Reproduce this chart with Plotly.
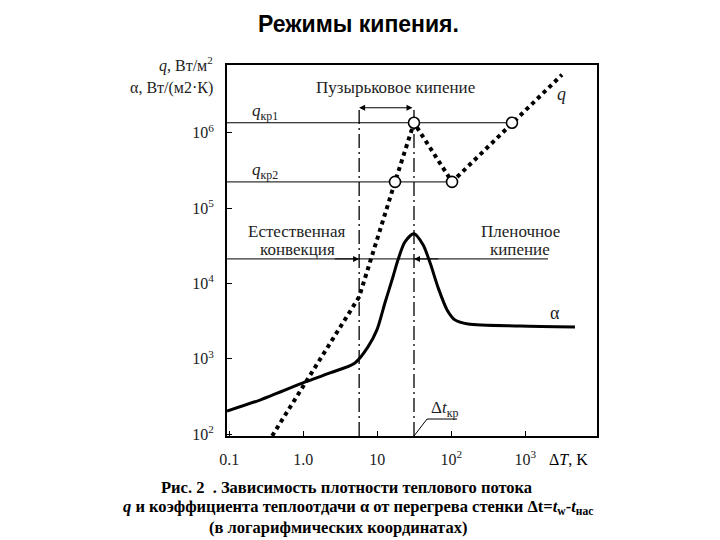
import numpy as np
import plotly.graph_objects as go

# ---------------- data ----------------
# heat transfer coefficient alpha vs wall superheat
dT_alpha = [0.0933, 0.26, 0.99, 2.3, 5.0, 7.5, 9.9, 12.7, 16.3, 19.1, 23.7, 31.4,
            41.6, 51.8, 66.0, 88.0, 112.0, 169.0, 850.0, 4700.0]
alpha = [203, 284, 479, 650, 881, 1440, 2420, 5520, 12200, 20600, 35600, 45600,
         32600, 18800, 9000, 4460, 3290, 2900, 2735, 2655]

# heat flux q vs wall superheat
dT_q = [0.38, 5.7, 17.4, 31.4, 102.6, 662.0, 3140.0]
q = [95, 6640, 2.23e5, 1.36e6, 2.23e5, 1.36e6, 5.9e6]

# characteristic levels / points
q_kr1 = 1.36e6
q_kr2 = 2.23e5
q_regime = 2.12e4          # level of the regime-boundary line
q_bracket = 2.15e6         # level of the nucleate boiling bracket
dT_conv = 5.7              # end of natural convection
dT_kr = 31.4               # critical superheat
dT_kr2 = 17.4
dT_min = 102.6
dT_film = 662.0
dT_regime_end = 2030.0
dT_leader = [31.4, 47.1, 120.0]
q_leader = [94.6, 159.0, 159.0]

x_range_log = [-1.03, 3.97]
y_range_log = [1.976, 6.90]
x_min = 10 ** x_range_log[0]
y_min = 10 ** y_range_log[0]

x_tickvals = [0.1, 1, 10, 100, 1000]
x_ticktext = ["0.1", "1.0", "10", "10<sup>2</sup>", "10<sup>3</sup>"]
y_tickvals = [1e2, 1e3, 1e4, 1e5, 1e6]
y_ticktext = ["10<sup>2</sup>", "10<sup>3</sup>", "10<sup>4</sup>", "10<sup>5</sup>", "10<sup>6</sup>"]

# ---------------- layout geometry ----------------
OFF = 8                      # page body margin of the html
W, H = 720 - OFF, 540 - OFF
L, T = 227 - OFF, 65 - OFF
PW, PH = 370, 371
R, B = W - L - PW, H - T - PH

def px(xp):
    return (xp - OFF - L) / PW

def py(yp):
    return (T + PH - (yp - OFF)) / PH

SERIF = "Liberation Serif"
TXT = "#222222"

fig = go.Figure()

thin = dict(color="black", width=1)
# horizontal reference lines
fig.add_trace(go.Scatter(x=[x_min, dT_film], y=[q_kr1, q_kr1], mode="lines", line=thin,
                         hoverinfo="skip"))
fig.add_trace(go.Scatter(x=[x_min, dT_min], y=[q_kr2, q_kr2], mode="lines", line=thin,
                         hoverinfo="skip"))
fig.add_trace(go.Scatter(x=[x_min, dT_regime_end], y=[q_regime, q_regime], mode="lines",
                         line=thin, hoverinfo="skip"))

# vertical dash-dot lines
dd = dict(color="black", width=1.3, dash="14px,4px,2px,4px")
for xv in (dT_conv, dT_kr):
    fig.add_trace(go.Scatter(x=[xv, xv], y=[y_min, q_bracket], mode="lines", line=dd,
                             hoverinfo="skip"))

# alpha curve
fig.add_trace(go.Scatter(x=dT_alpha, y=alpha, mode="lines",
                         line=dict(color="black", width=3, shape="spline", smoothing=0.8),
                         hoverinfo="skip"))
# q curve
fig.add_trace(go.Scatter(x=dT_q, y=q, mode="lines",
                         line=dict(color="black", width=4, dash="4px,4px"),
                         hoverinfo="skip"))
# leader for delta t_kr
fig.add_trace(go.Scatter(x=dT_leader, y=q_leader, mode="lines",
                         line=dict(color="black", width=1), hoverinfo="skip",
                         cliponaxis=False))
# open circles
fig.add_trace(go.Scatter(x=[dT_kr2, dT_kr, dT_min, dT_film, dT_kr],
                         y=[q_kr2, q_kr1, q_kr2, q_kr1, y_min],
                         mode="markers", cliponaxis=False,
                         marker=dict(size=11, color="white",
                                     line=dict(color="black", width=1.6)),
                         hoverinfo="skip"))

ann = []
lg = np.log10
# bracket double arrow
ann.append(dict(x=lg(dT_conv), y=lg(q_bracket), ax=lg(dT_kr), ay=lg(q_bracket),
                xref="x", yref="y", axref="x", ayref="y", text="", showarrow=True,
                arrowhead=2, startarrowhead=2, arrowside="end+start", arrowsize=1.2,
                arrowwidth=1, arrowcolor="black"))
# regime-boundary arrows
ann.append(dict(x=lg(dT_conv), y=lg(q_regime), ax=lg(dT_conv) - 0.35, ay=lg(q_regime),
                xref="x", yref="y", axref="x", ayref="y", text="", showarrow=True,
                arrowhead=2, arrowsize=1.2, arrowwidth=1, arrowcolor="black"))
ann.append(dict(x=lg(dT_kr), y=lg(q_regime), ax=lg(dT_kr) + 0.35, ay=lg(q_regime),
                xref="x", yref="y", axref="x", ayref="y", text="", showarrow=True,
                arrowhead=2, arrowsize=1.2, arrowwidth=1, arrowcolor="black"))

def label(text, xp, yp, size=17, xanchor="center", color=TXT, family=SERIF):
    ann.append(dict(text=text, x=px(xp), y=py(yp), xref="paper", yref="paper",
                    showarrow=False, xanchor=xanchor, yanchor="middle",
                    font=dict(family=family, size=size, color=color)))

label("Пузырьковое кипение", 395, 87)
label("<i>q</i>", 561, 94, size=18)
label("<i>q</i><sub>кр1</sub>", 265, 112)
label("<i>q</i><sub>кр2</sub>", 265, 171)
label("Естественная", 297, 231)
label("конвекция", 297, 249)
label("Пленочное", 520, 231)
label("кипение", 520, 249)
label("α", 555, 313, size=18)
label("Δ<i>t</i><sub>кр</sub>", 444, 409)
label("Δ<i>T</i>, K", 568, 459, size=16, color="black")
label("<i>q</i>, Вт/м<sup>2</sup>", 215, 64, size=16, xanchor="right")
label("α, Вт/(м2·К)", 215, 88, size=16, xanchor="right")

# title
label("<b>Режимы кипения.</b>", 358, 24, size=23, color="black", family="Liberation Sans")
# caption
label("<b>Рис. 2  . Зависимость плотности теплового потока</b>", 346, 487, size=16.5,
      color="black")
label("<b><i>q</i> и коэффициента теплоотдачи α от перегрева стенки Δt=<i>t</i><sub>w</sub>-<i>t</i><sub>нас</sub></b>",
      358, 507, size=16.5, color="black")
label("<b>(в логарифмических координатах)</b>", 338, 527, size=16.5, color="black")

axis_common = dict(type="log", showgrid=False, zeroline=False, showline=True,
                   linecolor="black", linewidth=2, mirror=True, ticks="inside",
                   ticklen=5, tickwidth=1.2, tickcolor="black", layer="below traces",
                   tickfont=dict(family=SERIF, size=16, color="#222"))

fig.update_layout(
    width=W, height=H,
    margin=dict(l=L, r=R, t=T, b=B, pad=0),
    paper_bgcolor="white", plot_bgcolor="white",
    showlegend=False,
    xaxis=dict(range=x_range_log, tickvals=x_tickvals, ticktext=x_ticktext,
               ticklabelstandoff=8, **axis_common),
    yaxis=dict(range=y_range_log, tickvals=y_tickvals, ticktext=y_ticktext,
               ticklabelstandoff=8, **axis_common),
    annotations=ann,
)

fig.write_html("out.html")
